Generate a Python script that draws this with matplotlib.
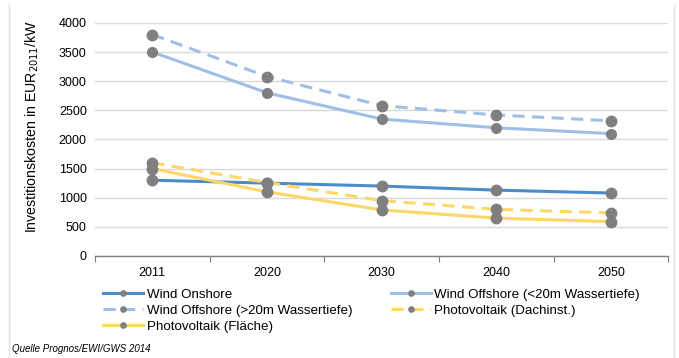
import matplotlib
matplotlib.use("Agg")
import matplotlib.pyplot as plt
from matplotlib.lines import Line2D

plt.rcParams['font.family'] = ['Liberation Sans', 'DejaVu Sans']

years = ["2011", "2020", "2030", "2040", "2050"]
wind_onshore = [1300, 1250, 1200, 1130, 1080]
wind_offshore_lt20 = [3500, 2800, 2350, 2200, 2100]
wind_offshore_gt20 = [3800, 3080, 2580, 2420, 2320]
pv_dach = [1600, 1260, 950, 800, 740]
pv_flaeche = [1500, 1100, 790, 650, 590]

c_onshore = "#4a8bcb"
c_offshore = "#a0bfe6"
c_pv = "#fdd868"
c_marker = "#7f7f7f"

fig = plt.figure(figsize=(6.79, 3.58), dpi=100)
ax = fig.add_axes([0.140, 0.285, 0.844, 0.651])

x = list(range(len(years)))
series = [
    ("Wind Onshore", wind_onshore, c_onshore, "-", 7.5),
    ("Wind Offshore (<20m Wassertiefe)", wind_offshore_lt20, c_offshore, "-", 7.0),
    ("Wind Offshore (>20m Wassertiefe)", wind_offshore_gt20, c_offshore, (0, (4, 2.4)), 7.5),
    ("Photovoltaik (Dachinst.)", pv_dach, c_pv, (0, (4, 2.4)), 7.5),
    ("Photovoltaik (Fläche)", pv_flaeche, c_pv, "-", 7.5),
]
handles = {}
for name, vals, col, ls, ms in series:
    ax.plot(x, vals, color=col, linestyle=ls, linewidth=2.2, zorder=2)
    ax.plot(x, vals, linestyle="none", marker="o", markersize=ms,
            color=c_marker, zorder=3)
    handles[name] = Line2D([], [], color=col, linestyle=ls, linewidth=2.2,
                           marker="o", markersize=3.8, markerfacecolor=c_marker,
                           markeredgecolor=c_marker)

ax.set_xlim(-0.5, 4.5)
ax.set_ylim(0, 4000)
ax.set_yticks(range(0, 4001, 500))
ax.yaxis.grid(True, color="#d9d9d9", linewidth=1.0)
ax.set_axisbelow(True)
ax.tick_params(axis="y", length=0, labelsize=9, colors="#000000", pad=6)

ax.set_xticks([i - 0.5 for i in range(6)])
ax.set_xticklabels([])
ax.set_xticks(x, minor=True)
ax.set_xticklabels(years, minor=True, fontsize=9)
ax.tick_params(axis="x", which="major", length=4, color="#7f7f7f", direction="out")
ax.tick_params(axis="x", which="minor", length=0, pad=8)

for s in ["top", "right", "left"]:
    ax.spines[s].set_visible(False)
ax.spines["bottom"].set_color("#7f7f7f")
ax.spines["bottom"].set_linewidth(1.0)

ax.set_ylabel("Investitionskosten in EUR$_{2011}$/kW", fontsize=10.2)
ax.yaxis.set_label_coords(-0.094, 0.555)

order = ["Wind Onshore", "Wind Offshore (>20m Wassertiefe)", "Photovoltaik (Fläche)",
         "Wind Offshore (<20m Wassertiefe)", "Photovoltaik (Dachinst.)"]
fig.legend([handles[n] for n in order], order, ncol=2, frameon=False,
           loc="upper left", bbox_to_anchor=(0.152, 0.195), fontsize=9.6,
           handlelength=3.0, handletextpad=0.25, columnspacing=2.9,
           labelspacing=0.28, borderaxespad=0, borderpad=0)

fig.text(0.018, 0.012, "Quelle Prognos/EWI/GWS 2014", fontsize=7,
         style="italic", ha="left", va="bottom")

fig.add_artist(Line2D([0.013, 0.013], [0.0, 0.985], color="#e3e3e3",
                      linewidth=1.0, transform=fig.transFigure))
fig.add_artist(Line2D([0.993, 0.993], [0.0, 0.985], color="#e3e3e3",
                      linewidth=1.0, transform=fig.transFigure))

fig.savefig("out.png", dpi=100)
